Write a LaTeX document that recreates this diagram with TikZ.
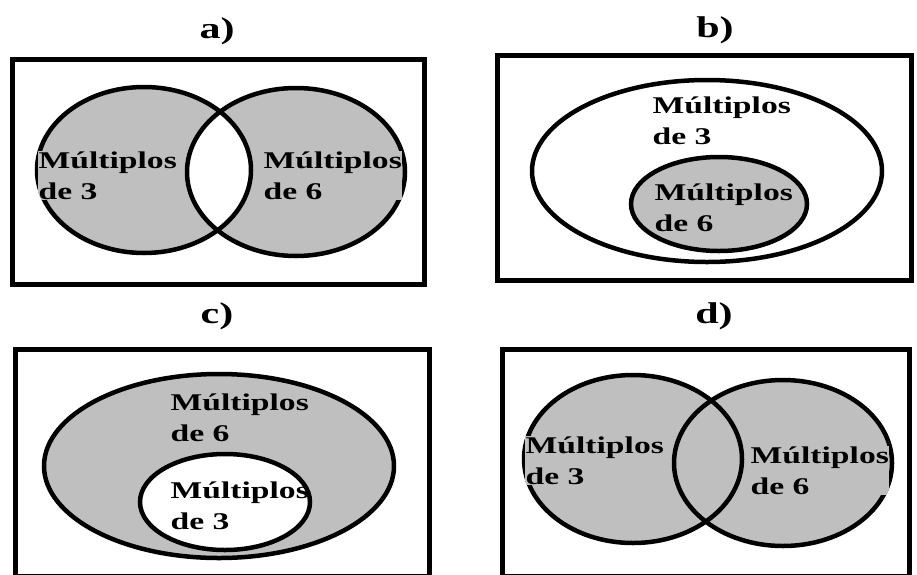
\documentclass[tikz,border=0pt]{standalone}
\usepackage{fontspec}
\setmainfont{Liberation Serif}
\usepackage{tikz}
\newcommand{\wide}[1]{\scalebox{1.4}[1]{#1}}
\newcommand{\widelab}[1]{\scalebox{1.4}[1]{#1}}

\begin{document}
\begin{tikzpicture}[x=1pt, y=-1pt,
  setline/.style={draw=black, line width=4.5pt},
  setfill/.style={fill=black!25},
  frame/.style={draw=black, line width=5pt},
  panellab/.style={font=\bfseries\fontsize{30}{30}\selectfont, anchor=base, inner sep=0pt},
  settxt/.style={font=\bfseries\fontsize{24}{31}\selectfont, anchor=base west, align=left, inner sep=0.5pt},
  graytxt/.style={settxt, setfill}
]
  \useasboundingbox (0,0) rectangle (917,574);
  \clip (0,0) rectangle (917,574);
  \fill[white] (0,0) rectangle (917,574);

  % a)
  \node[panellab] (la) at (217,38) {\widelab{a)}};
  \draw[frame] (12.5,59.5) rectangle (424.5,284.5);
  \fill[setfill] (144,170) ellipse [x radius=107, y radius=83];
  \fill[setfill] (296,172) ellipse [x radius=109, y radius=84];
  \begin{scope}
    \clip (144,170) ellipse [x radius=107, y radius=83];
    \fill[white] (296,172) ellipse [x radius=109, y radius=84];
  \end{scope}
  \draw[setline] (144,170) ellipse [x radius=107, y radius=83];
  \draw[setline] (296,172) ellipse [x radius=109, y radius=84];
  \begin{scope}
    \clip (144,170) ellipse [x radius=109.5, y radius=85.5];
    \node[graytxt] (a3) at (38,199) {\wide{Múltiplos}\\\wide{de 3}};
  \end{scope}
  \begin{scope}
    \clip (296,172) ellipse [x radius=111.5, y radius=86.5];
    \node[graytxt] (a6) at (263,199) {\wide{Múltiplos}\\\wide{de 6}};
  \end{scope}

  % b)
  \node[panellab] (lb) at (715,37) {\widelab{b)}};
  \draw[frame] (497.5,55.5) rectangle (911.5,280.5);
  \draw[setline] (707,171) ellipse [x radius=175, y radius=91];
  \draw[setline, setfill] (719,204) ellipse [x radius=88, y radius=47];
  \node[settxt] (b3) at (652,144) {\wide{Múltiplos}\\\wide{de 3}};
  \node[settxt] (b6) at (654,231) {\wide{Múltiplos}\\\wide{de 6}};

  % c)
  \node[panellab] (lc) at (217,323) {\widelab{c)}};
  \draw[frame] (15.5,349.5) rectangle (429.5,576);
  \draw[setline, setfill] (219,466) ellipse [x radius=175, y radius=92];
  \draw[setline, fill=white] (225,502) ellipse [x radius=85, y radius=48];
  \node[settxt] (c6) at (170,441) {\wide{Múltiplos}\\\wide{de 6}};
  \node[settxt] (c3) at (170,529) {\wide{Múltiplos}\\\wide{de 3}};

  % d)
  \node[panellab] (ld) at (714,323) {\widelab{d)}};
  \draw[frame] (502.5,349.5) rectangle (909.5,576);
  \fill[setfill] (633,459) ellipse [x radius=109, y radius=84];
  \fill[setfill] (783,463) ellipse [x radius=109, y radius=83];
  \draw[setline] (633,459) ellipse [x radius=109, y radius=84];
  \draw[setline] (783,463) ellipse [x radius=109, y radius=83];
  \begin{scope}
    \clip (633,459) ellipse [x radius=111.5, y radius=86.5];
    \node[graytxt] (d3) at (525,484) {\wide{Múltiplos}\\\wide{de 3}};
  \end{scope}
  \begin{scope}
    \clip (783,463) ellipse [x radius=111.5, y radius=85.5];
    \node[graytxt] (d6) at (750,494) {\wide{Múltiplos}\\\wide{de 6}};
  \end{scope}
\end{tikzpicture}
\end{document}
